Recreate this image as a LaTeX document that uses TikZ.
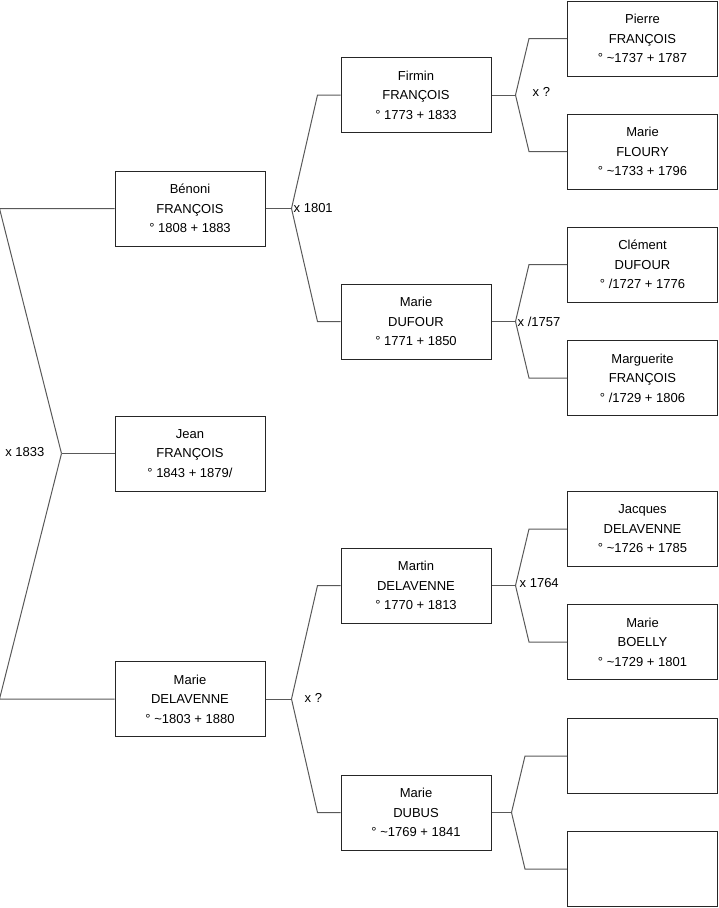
\documentclass[tikz,border=0pt]{standalone}
\usepackage{fontspec}
\setmainfont{Liberation Sans}
\begin{document}
\begin{tikzpicture}[
    x=1pt, y=-1pt,
    every node/.style={font=\fontsize{13}{19.5}\selectfont},
    person/.style={draw=black!85, line width=1pt, minimum width=150pt,
      minimum height=75pt, align=center, inner sep=0pt},
    link/.style={draw=black!65, line width=1pt},
    union/.style={inner sep=1pt}
  ]

    \useasboundingbox (0,0) rectangle (719,908);

    % Child --------------------------------------------------------
    \node[person] (jean) at (190,453.5) {Jean\\FRANÇOIS\\° 1843 + 1879/};

    % Parents ------------------------------------------------------
    \node[person] (benoni) at (190,208.5) {Bénoni\\FRANÇOIS\\° 1808 + 1883};
    \node[person] (delavenne) at (190,699) {Marie\\DELAVENNE\\° \textasciitilde1803 + 1880};

    % Grandparents -------------------------------------------------
    \node[person] (firmin) at (416,95) {Firmin\\FRANÇOIS\\° 1773 + 1833};
    \node[person] (dufour) at (416,321.5) {Marie\\DUFOUR\\° 1771 + 1850};
    \node[person] (martin) at (416,585.5) {Martin\\DELAVENNE\\° 1770 + 1813};
    \node[person] (dubus) at (416,812.5) {Marie\\DUBUS\\° \textasciitilde1769 + 1841};

    % Great-grandparents -------------------------------------------
    \node[person] (pierre) at (642.5,38.5) {Pierre\\FRANÇOIS\\° \textasciitilde1737 + 1787};
    \node[person] (floury) at (642.5,151.5) {Marie\\FLOURY\\° \textasciitilde1733 + 1796};
    \node[person] (clement) at (642.5,264.5) {Clément\\DUFOUR\\° /1727 + 1776};
    \node[person] (marguerite) at (642.5,378) {Marguerite\\FRANÇOIS\\° /1729 + 1806};
    \node[person] (jacques) at (642.5,529) {Jacques\\DELAVENNE\\° \textasciitilde1726 + 1785};
    \node[person] (boelly) at (642.5,642) {Marie\\BOELLY\\° \textasciitilde1729 + 1801};
    \node[person] (blankA) at (642.5,756) {};
    \node[person] (blankB) at (642.5,869) {};

    % Links from each child to its two parents ---------------------
    \coordinate (m-jean) at ([xshift=-53pt]jean.west);
    \draw[link] (jean.west) -- (m-jean);
    \draw[link] (m-jean) -- ([xshift=-115pt]benoni.west) -- (benoni.west);
    \draw[link] (m-jean) -- ([xshift=-115pt]delavenne.west) -- (delavenne.west);

    \foreach \kid/\dad/\mum/\gap/\lean in {benoni/firmin/dufour/26/23,
        delavenne/martin/dubus/26/23, firmin/pierre/floury/24/38,
        dufour/clement/marguerite/24/38, martin/jacques/boelly/24/38,
        dubus/blankA/blankB/20/42}{
      \coordinate (m-\kid) at ([xshift=\gap pt]\kid.east);
      \draw[link] (\kid.east) -- (m-\kid);
      \draw[link] (m-\kid) -- ([xshift=-\lean pt]\dad.west) -- (\dad.west);
      \draw[link] (m-\kid) -- ([xshift=-\lean pt]\mum.west) -- (\mum.west);
    }

    % Marriage labels ----------------------------------------------
    \node[union, anchor=east, xshift=-16pt, yshift=1pt] (u-jean) at (m-jean) {x 1833};
    \node[union, anchor=west, xshift=1pt] (u-benoni) at (m-benoni) {x 1801};
    \node[union, anchor=west, xshift=12pt, yshift=1pt] (u-delavenne) at (m-delavenne) {x ?};
    \node[union, anchor=west, xshift=16pt, yshift=3pt] (u-firmin) at (m-firmin) {x ?};
    \node[union, anchor=west, xshift=1pt] (u-dufour) at (m-dufour) {x /1757};
    \node[union, anchor=west, xshift=3pt, yshift=2pt] (u-martin) at (m-martin) {x 1764};

  \end{tikzpicture}
\end{document}
